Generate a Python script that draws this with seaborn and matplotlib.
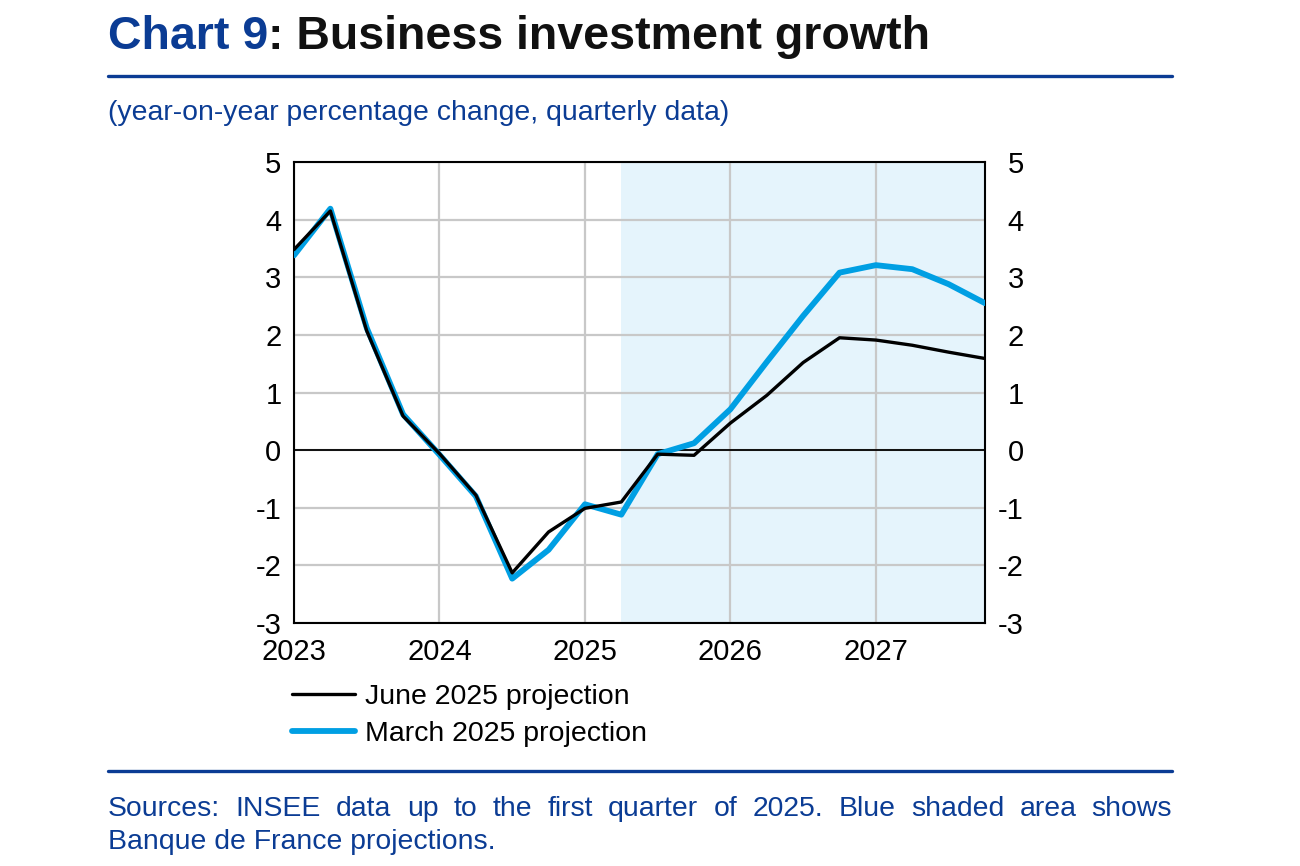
import matplotlib
matplotlib.use("Agg")
import matplotlib.pyplot as plt
import seaborn as sns
import pandas as pd
from matplotlib.lines import Line2D

# quarterly data, year-on-year % change
quarters = ["2023Q1", "2023Q2", "2023Q3", "2023Q4",
            "2024Q1", "2024Q2", "2024Q3", "2024Q4",
            "2025Q1", "2025Q2", "2025Q3", "2025Q4",
            "2026Q1", "2026Q2", "2026Q3", "2026Q4",
            "2027Q1", "2027Q2", "2027Q3", "2027Q4"]
june_2025 = [3.48, 4.15, 2.07, 0.59, -0.06, -0.78, -2.13, -1.42, -1.01, -0.90,
             -0.07, -0.09, 0.47, 0.95, 1.52, 1.95, 1.91, 1.82, 1.70, 1.59]
march_2025 = [3.38, 4.19, 2.12, 0.62, -0.08, -0.80, -2.23, -1.73, -0.94, -1.12,
              -0.07, 0.12, 0.71, 1.53, 2.33, 3.08, 3.21, 3.14, 2.88, 2.55]
year_ticks = [2023, 2024, 2025, 2026, 2027]
y_ticks = [5, 4, 3, 2, 1, 0, -1, -2, -3]
projection_start = "2025Q2"

DARK_BLUE = "#0b3c94"
LIGHT_BLUE = "#009fe3"
SHADE = "#e5f4fc"
GRID = "#c8c8c8"


def to_num(q):
    return int(q[:4]) + (int(q[-1]) - 1) / 4


df = pd.DataFrame({"x": [to_num(q) for q in quarters],
                   "june": june_2025, "march": march_2025})

sns.set_theme(style="white")
plt.rcParams["font.family"] = ["Liberation Sans", "DejaVu Sans"]

fig = plt.figure(figsize=(13, 8.66), dpi=100)
ax = fig.add_axes([294 / 1300, 1 - 623 / 866, (985 - 294) / 1300, (623 - 162) / 866])

ax.axvspan(to_num(projection_start), df["x"].max(), color=SHADE, zorder=0, lw=0)
sns.lineplot(data=df, x="x", y="march", ax=ax, color=LIGHT_BLUE, lw=4.2, zorder=3)
sns.lineplot(data=df, x="x", y="june", ax=ax, color="black", lw=2.4, zorder=4)
ax.axhline(0, color="black", lw=1.3, zorder=2)

ax.set_xlim(df["x"].min(), df["x"].max())
ax.set_ylim(-3, 5)
ax.set_xticks(year_ticks)
ax.set_xticklabels([str(y) for y in year_ticks])
ax.set_yticks(y_ticks)
ax.set_yticklabels([str(v) for v in y_ticks])
ax.set_xlabel("")
ax.set_ylabel("")
ax.set_axisbelow(True)
ax.grid(True, color=GRID, lw=1.6)
ax.tick_params(axis="both", length=0, labelsize=21, colors="black")
ax.tick_params(axis="y", pad=9)
ax.tick_params(axis="x", pad=11)
for s in ax.spines.values():
    s.set_color("black")
    s.set_linewidth(1.5)

ax2 = ax.twinx()
ax2.set_ylim(-3, 5)
ax2.set_yticks(y_ticks)
ax2.set_yticklabels([str(v) for v in y_ticks], ha="right")
ax2.tick_params(axis="y", length=0, labelsize=21, pad=28, colors="black")
for s in ax2.spines.values():
    s.set_visible(False)

handles = [Line2D([], [], color="black", lw=2.4),
           Line2D([], [], color=LIGHT_BLUE, lw=4.2)]
leg = fig.legend(handles, ["June 2025 projection", "March 2025 projection"],
                 loc="upper left", bbox_to_anchor=(292 / 1300, 1 - 684 / 866),
                 frameon=False, fontsize=20.5, handlelength=2.2, handletextpad=0.35,
                 labelspacing=0.38, borderpad=0, borderaxespad=0)
for t in leg.get_texts():
    t.set_color("black")

# title in two colours
renderer = fig.canvas.get_renderer()
t1 = fig.text(108 / 1300, 1 - 49 / 866, "Chart 9", color=DARK_BLUE,
              fontsize=33.5, fontweight="bold", va="baseline")
bb = t1.get_window_extent(renderer)
fig.text(bb.x1 / 1300, 1 - 49 / 866, ": Business investment growth", color="#111111",
         fontsize=33.5, fontweight="bold", va="baseline")

fig.add_artist(Line2D([108 / 1300, 1172 / 1300], [1 - 76 / 866] * 2,
                      color=DARK_BLUE, lw=2.4))
fig.text(108 / 1300, 1 - 120 / 866, "(year-on-year percentage change, quarterly data)",
         color=DARK_BLUE, fontsize=20.4, va="baseline")

fig.add_artist(Line2D([108 / 1300, 1172 / 1300], [1 - 771 / 866] * 2,
                      color=DARK_BLUE, lw=2.4))

# justified first line of the footnote
line1 = "Sources: INSEE data up to the first quarter of 2025. Blue shaded area shows"
words = line1.split()
fs = 20.4
widths = []
for w in words:
    tt = fig.text(0, 0, w, fontsize=fs)
    widths.append(tt.get_window_extent(renderer).width)
    tt.remove()
gap = (1172 - 108 - sum(widths)) / (len(words) - 1)
xpos = 108
for w, wd in zip(words, widths):
    fig.text(xpos / 1300, 1 - 816 / 866, w, color=DARK_BLUE, fontsize=fs, va="baseline")
    xpos += wd + gap
fig.text(108 / 1300, 1 - 849 / 866, "Banque de France projections.",
         color=DARK_BLUE, fontsize=fs, va="baseline")

fig.savefig("out.png", dpi=100)
